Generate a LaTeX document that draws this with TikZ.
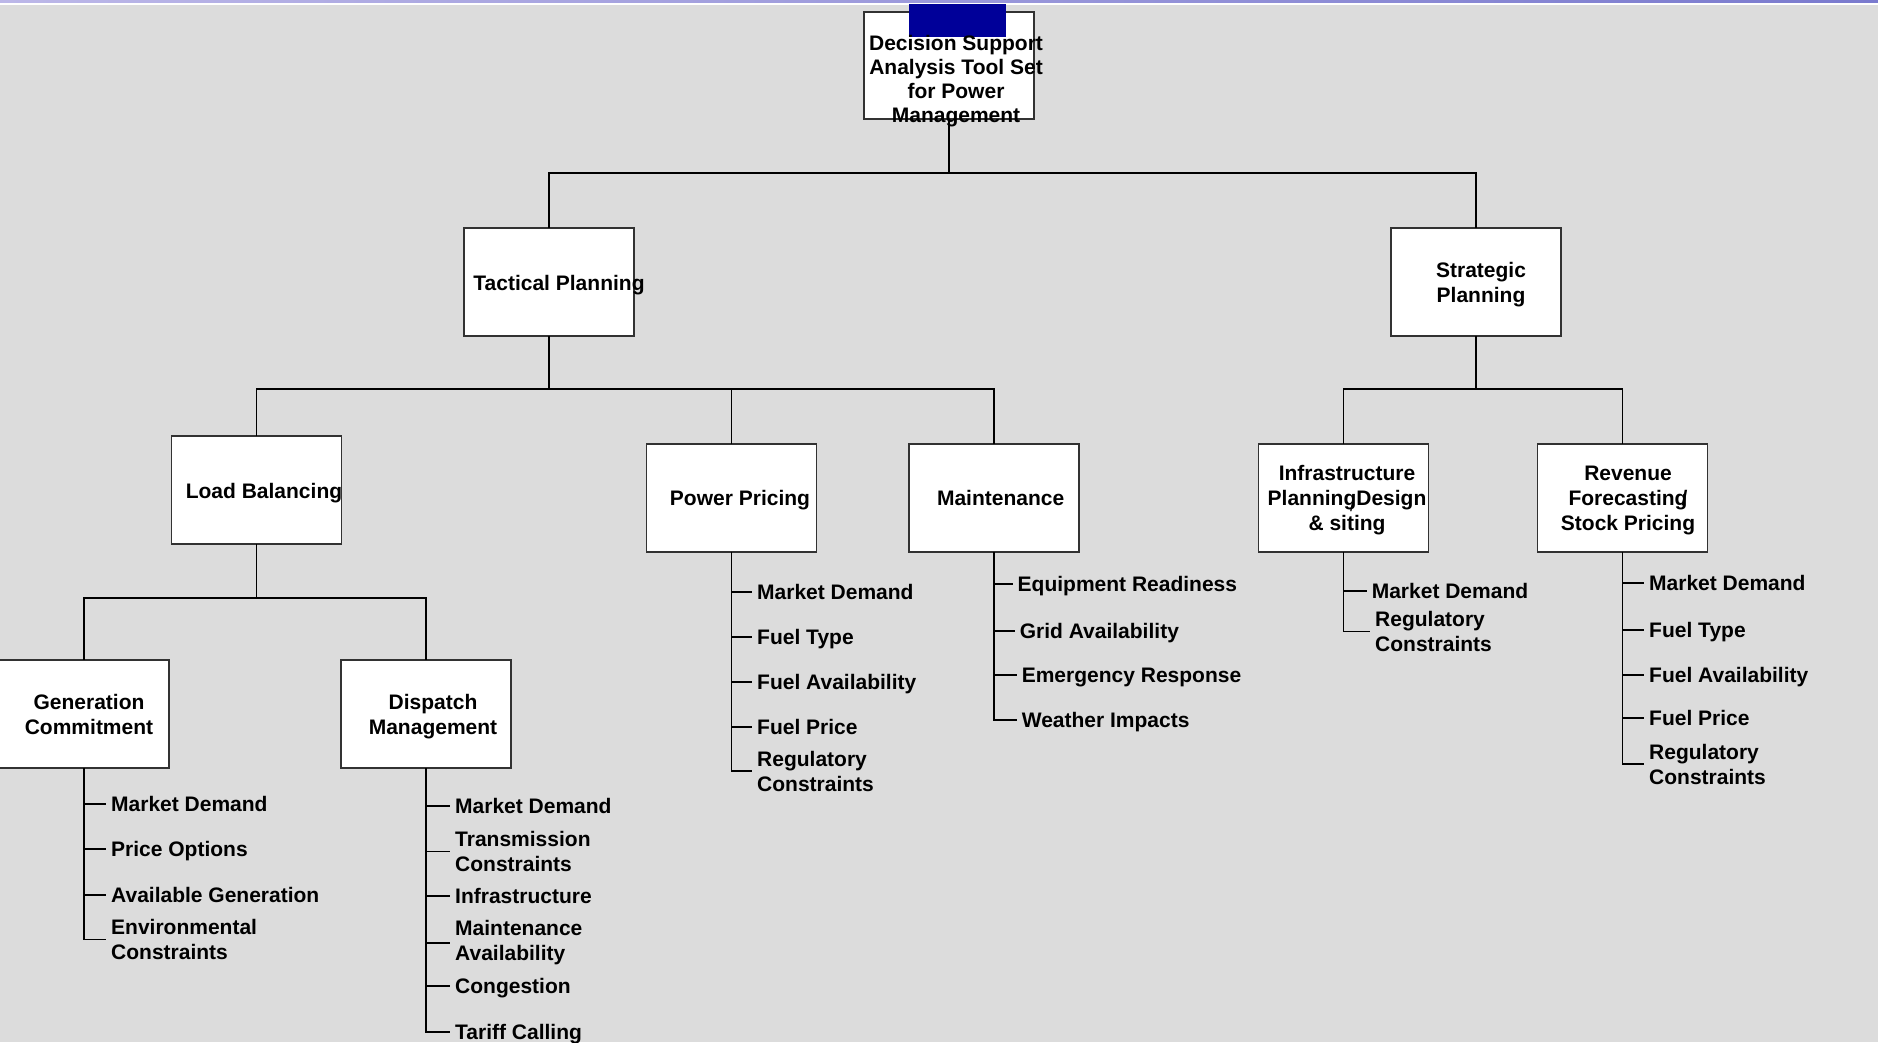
\documentclass[tikz,border=0pt]{standalone}
\usepackage{fontspec}
\setmainfont{Liberation Sans}
\usepackage{graphicx}

\definecolor{bg}{RGB}{220,220,220}
\definecolor{bandL}{RGB}{188,183,232}
\definecolor{bandR}{RGB}{122,122,206}
\definecolor{rootblue}{RGB}{0,0,153}
\definecolor{boxline}{RGB}{50,50,50}

\newcommand{\lbfont}{\fontsize{21}{25}\selectfont\bfseries}

\tikzset{
  box/.style={draw=boxline, fill=white, line width=1.1pt, minimum width=170pt,
              minimum height=108pt, inner sep=0pt, outer sep=0pt},
  lbl/.style={inner sep=0pt, align=center, font=\lbfont},
  item/.style={inner sep=0pt, anchor=west, align=left, font=\lbfont},
  oneline/.style={text height=15pt, text depth=0pt},
  link/.style={draw=black, line width=1.3pt},
  tick/.style={link, shorten >=5pt}
}

\begin{document}
\begin{tikzpicture}[x=1pt, y=-1pt]
  % page background and top band
  \fill[bg] (0,0) rectangle (1878,1042);
  \useasboundingbox (0,0) rectangle (1878,1042);
  \shade[left color=bandL, right color=bandR] (0,0) rectangle (1878,3);
  \fill[white] (0,3) rectangle (1878,5);

  % ---------- boxes ----------
  \node[box, minimum height=107pt] (root) at (949,65.5) {};
  \node[box] (tac) at (549,282) {};
  \node[box] (str) at (1476,282) {};
  \node[box] (lb)  at (256.5,490) {};
  \node[box] (pp)  at (731.6,498) {};
  \node[box] (mt)  at (994,498) {};
  \node[box] (inf) at (1343.5,498) {};
  \node[box] (rev) at (1622.5,498) {};
  \node[box] (gen) at (84,714) {};
  \node[box] (dis) at (426,714) {};

  % ---------- tree connectors ----------
  \draw[link] (root.south) -- ++(0,54) -| (tac.north);
  \draw[link] (root.south) -- ++(0,54) -| (str.north);
  \draw[link] (tac.south) -- ++(0,53) -| (lb.north);
  \draw[link] (tac.south) -- ++(0,53) -| (pp.north);
  \draw[link] (tac.south) -- ++(0,53) -| (mt.north);
  \draw[link] (str.south) -- ++(0,53) -| (inf.north);
  \draw[link] (str.south) -- ++(0,53) -| (rev.north);
  \draw[link] (lb.south) -- ++(0,54) -| (gen.north);
  \draw[link] (lb.south) -- ++(0,54) -| (dis.north);

  % blue tab on the top box
  \fill[rootblue] (909,4) rectangle (1006,37);

  % ---------- box labels ----------
  \node[lbl, font=\fontsize{21}{24}\selectfont\bfseries] (rootL) at (956,81)
    {Decision Support\\Analysis Tool Set\\for Power\\Management};
  \node[lbl, oneline] (tacL) at (559,283) {Tactical Planning};
  \node[lbl] (strL) at (1481,284.5) {Strategic\\Planning};
  \node[lbl, oneline] (lbL) at (264,491) {Load Balancing};
  \node[lbl, oneline] (ppL) at (740,498) {Power Pricing};
  \node[lbl, oneline] (mtL) at (1000.6,498) {Maintenance};
  \node[lbl] (infL) at (1347,500)
    {Infrastructure\\Planning\llap{\raisebox{-6pt}{\scalebox{0.55}{/}}\kern3pt}Design\\\& siting};
  \node[lbl] (revL) at (1628,500) {Revenue\\Forecasting\llap{/}\\Stock Pricing};
  \node[lbl] (genL) at (89,714) {Generation\\Commitment};
  \node[lbl] (disL) at (433,716.5) {Dispatch\\Management};

  % ---------- Generation Commitment ----------
  \node[item, oneline] (g1) at (111,804) {Market Demand};
  \node[item, oneline] (g2) at (111,849) {Price Options};
  \node[item, oneline] (g3) at (111,895) {Available Generation};
  \node[item] (g4) at (111,939.5) {Environmental\\Constraints};
  \foreach \t in {g1,g2,g3,g4} \draw[tick] (gen.south) |- (\t.west);

  % ---------- Dispatch Management ----------
  \node[item, oneline] (d1) at (455,806) {Market Demand};
  \node[item] (d2) at (455,851.5) {Transmission\\Constraints};
  \node[item, oneline] (d3) at (455,896) {Infrastructure};
  \node[item] (d4) at (455,943) {Maintenance\\Availability};
  \node[item, oneline] (d5) at (455,986) {Congestion};
  \node[item, oneline] (d6) at (455,1032) {Tariff Calling};
  \foreach \t in {d1,d2,d3,d4,d5,d6} \draw[tick] (dis.south) |- (\t.west);

  % ---------- Power Pricing ----------
  \node[item, oneline] (p1) at (757,592) {Market Demand};
  \node[item, oneline] (p2) at (757,637) {Fuel Type};
  \node[item, oneline] (p3) at (757,682) {Fuel Availability};
  \node[item, oneline] (p4) at (757,727) {Fuel Price};
  \node[item] (p5) at (757,771) {Regulatory\\Constraints};
  \foreach \t in {p1,p2,p3,p4,p5} \draw[tick] (pp.south) |- (\t.west);

  % ---------- Maintenance ----------
  \node[item, oneline] (m1) at (1017.5,584) {Equipment Readiness};
  \node[item, oneline] (m2) at (1019.6,631) {Grid Availability};
  \node[item, oneline] (m3) at (1021.6,675) {Emergency Response};
  \node[item, oneline] (m4) at (1021.6,720) {Weather Impacts};
  \foreach \t in {m1,m2,m3,m4} \draw[tick] (mt.south) |- (\t.west);

  % ---------- Infrastructure Planning ----------
  \node[item, oneline] (i1) at (1371.6,591) {Market Demand};
  \node[item] (i2) at (1375,631.5) {Regulatory\\Constraints};
  \foreach \t in {i1,i2} \draw[tick] (inf.south) |- (\t.west);

  % ---------- Revenue Forecasting ----------
  \node[item, oneline] (r1) at (1649,583) {Market Demand};
  \node[item, oneline] (r2) at (1649,630) {Fuel Type};
  \node[item, oneline] (r3) at (1649,675) {Fuel Availability};
  \node[item, oneline] (r4) at (1649,718) {Fuel Price};
  \node[item] (r5) at (1649,764) {Regulatory\\Constraints};
  \foreach \t in {r1,r2,r3,r4,r5} \draw[tick] (rev.south) |- (\t.west);
\end{tikzpicture}
\end{document}
